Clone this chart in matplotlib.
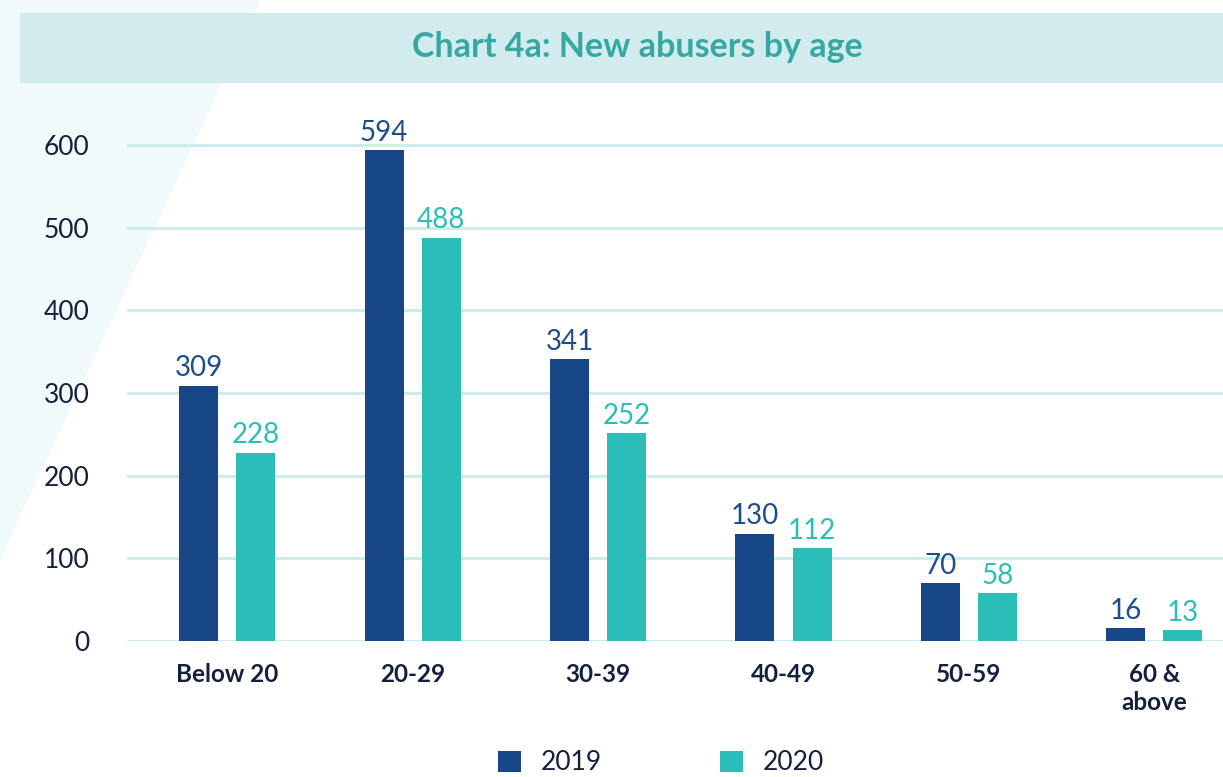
import numpy as np
import matplotlib
matplotlib.use("Agg")
import matplotlib.pyplot as plt
from matplotlib.patches import Patch, Polygon, Rectangle

plt.rcParams['font.family'] = ['Lato', 'DejaVu Sans']

age_groups = ['Below 20', '20-29', '30-39', '40-49', '50-59', '60 &\nabove']
abusers_2019 = [309, 594, 341, 130, 70, 16]
abusers_2020 = [228, 488, 252, 112, 58, 13]
years = ['2019', '2020']

c_blue = '#174687'
c_teal = '#2BBDB8'
c_text = '#14203D'

fig = plt.figure(figsize=(12.23, 7.77), dpi=100)

# light diagonal shape in the background and title banner
fig.patches.append(Polygon([(0, 1), (261 / 1223, 1), (0, 1 - 560 / 777)], closed=True,
                           transform=fig.transFigure, facecolor='#F1FAFA', edgecolor='none', zorder=-2))
fig.patches.append(Rectangle((20 / 1223, 1 - 83 / 777), 1 - 20 / 1223, 70 / 777,
                             transform=fig.transFigure, facecolor='#D2EBEC', edgecolor='none', zorder=-1))
fig.text(0.521, 1 - 47 / 777, 'Chart 4a: New abusers by age', ha='center', va='center',
         fontsize=24.5, fontweight='bold', color='#35A8A3', zorder=2)

ax = fig.add_axes([127 / 1223, 1 - 641 / 777, 1 - 127 / 1223, (641 - 112) / 777])
ax.set_facecolor('none')

x = np.arange(len(age_groups))
w = 0.21
off = 0.154
b1 = ax.bar(x - off, abusers_2019, w, color=c_blue, zorder=3)
b2 = ax.bar(x + off, abusers_2020, w, color=c_teal, zorder=3)

for bars, vals, col in [(b1, abusers_2019, '#1E4D8C'), (b2, abusers_2020, c_teal)]:
    for b, v in zip(bars, vals):
        ax.annotate(str(v), (b.get_x() + b.get_width() / 2, v), xytext=(0, 3),
                    textcoords='offset points', ha='center', va='bottom',
                    fontsize=20, color=col)

ax.set_xlim(-0.54, 5.37)
ax.set_ylim(0, 640)
ax.set_yticks([0, 100, 200, 300, 400, 500, 600])
ax.grid(axis='y', color='#CDEDED', linewidth=2.2, zorder=0)
ax.set_axisbelow(True)
for s in ax.spines.values():
    s.set_visible(False)
ax.tick_params(axis='y', length=0, pad=27, labelsize=19, labelcolor=c_text)
ax.tick_params(axis='x', length=0, pad=16, labelsize=17.5, labelcolor=c_text)
ax.set_xticks(x)
ax.set_xticklabels(age_groups, fontweight='bold', linespacing=1.25)

handles = [Patch(facecolor=c_blue, edgecolor='none'), Patch(facecolor=c_teal, edgecolor='none')]
leg = fig.legend(handles, years, loc='center', bbox_to_anchor=(661 / 1223, 1 - 763 / 777),
                 ncol=2, frameon=False, fontsize=19, handlelength=0.87, handleheight=0.87,
                 handletextpad=0.72, columnspacing=4.5)
for t in leg.get_texts():
    t.set_color(c_text)

fig.savefig('out.png', dpi=100)
